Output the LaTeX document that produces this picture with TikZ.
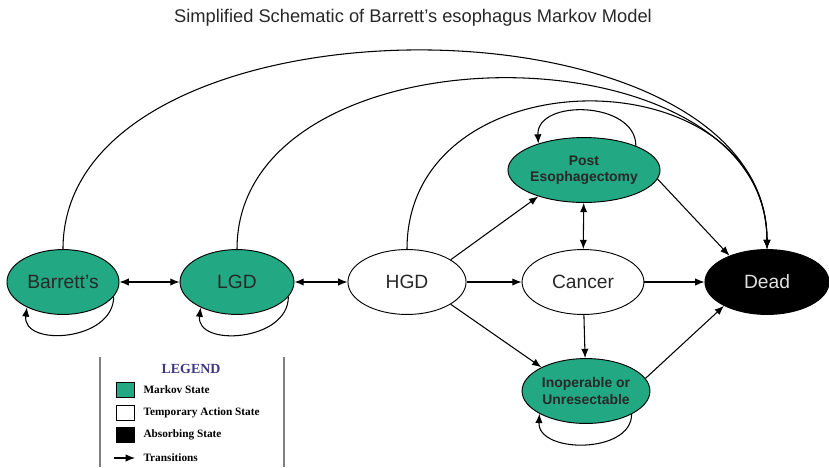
\documentclass[tikz,border=0pt]{standalone}
\usepackage{fontspec}
\setmainfont{Liberation Sans}
\newfontfamily\legendfont{Liberation Serif}
\usepackage{tikz}
\usetikzlibrary{arrows.meta, shapes.geometric}

\definecolor{markovgreen}{RGB}{34,168,130}
\definecolor{legendblue}{RGB}{60,56,130}
\definecolor{txtgray}{RGB}{40,40,40}

\begin{document}
\begin{tikzpicture}[x=0.0265cm, y=-0.0265cm,
  >={Latex[length=7pt, width=5.5pt]},
  line width=0.8pt,
  statenode/.style = {ellipse, draw, line width=0.7pt, inner sep=0pt, minimum height=1.72cm, text=txtgray, font=\fontsize{14.5}{17}\selectfont},
  markovnode/.style = {statenode, fill=markovgreen},
  smallnode/.style = {markovnode, align=center, font=\bfseries\fontsize{10.5}{12.5}\selectfont},
  legbox/.style = {draw, line width=0.6pt, minimum width=0.48cm, minimum height=0.40cm, inner sep=0pt},
  legtext/.style = {anchor=west, inner sep=0pt, font=\legendfont\bfseries\fontsize{8.5}{10}\selectfont}]
\useasboundingbox (0,0) rectangle (829,467);

\node[font=\fontsize{13.8}{16}\selectfont, text=txtgray] (title) at (413,18) {Simplified Schematic of Barrett's esophagus Markov Model};

\node[markovnode, minimum width=2.97cm] (brt) at (63,282) {Barrett's};
\node[markovnode, minimum width=3.02cm] (lgd) at (237,282) {LGD};
\node[statenode, minimum width=3.13cm] (hgd) at (407,282) {HGD};
\node[statenode, minimum width=3.23cm] (canc) at (583,282) {Cancer};
\node[statenode, fill=black, text=white!88!black, minimum width=3.29cm] (dead) at (767,282) {Dead};
\node[smallnode, minimum width=3.29cm] (post) at (584,170) {Post\\Esophagectomy};
\node[smallnode, minimum width=3.39cm] (inop) at (586,391) {Inoperable or\\Unresectable};

\draw[<->] (brt) -- (lgd);
\draw[<->] (lgd) -- (hgd);
\draw[->] (hgd) -- (canc);
\draw[->] (canc) -- (dead);
\draw[->] (hgd.27) -- (post.-150);
\draw[->] (hgd.-27) -- (inop.152);
\draw[<->] (post) -- (canc);
\draw[->] (canc) -- (inop);
\draw[->] (post.-7) -- (dead.145);
\draw[->] (inop.12) -- (dead.-151);

\draw[->] (brt.north) .. controls (63,-15) and (767,-15) .. (dead.north);
\draw[->] (lgd.north) .. controls (237,22) and (767,22) .. (dead.north);
\draw[->] (hgd.north) .. controls (407,53) and (767,53) .. (dead.north);

\draw[->] (brt.-16) .. controls +(0,45) and +(-5,40) .. (brt.-145);
\draw[->] (lgd.-16) .. controls +(0,45) and +(-5,40) .. (lgd.-145);
\draw[->] (post.25) .. controls +(0,-45) and +(-2,-45) .. (post.150);
\draw[->] (inop.-27) .. controls +(0,40) and +(-2,40) .. (inop.-154);

\draw[gray, line width=1pt] (100,357) -- (100,467);
\draw[gray, line width=1pt] (284,357) -- (284,467);
\node[font=\legendfont\bfseries\fontsize{10.5}{12}\selectfont, text=legendblue] (leg) at (191,369) {LEGEND};
\node[legbox, fill=markovgreen] (k1) at (125,390) {};
\node[legtext] (k1t) at (143,390) {Markov State};
\node[legbox, fill=white] (k2) at (125,413) {};
\node[legtext] (k2t) at (143,413) {Temporary Action State};
\node[legbox, fill=black] (k3) at (125,435) {};
\node[legtext] (k3t) at (143,435) {Absorbing State};
\coordinate (t0) at (114,458);
\coordinate (t1) at (135,458);
\draw[->] (t0) -- (t1);
\node[legtext] (k4t) at (143,458) {Transitions};
\end{tikzpicture}
\end{document}
